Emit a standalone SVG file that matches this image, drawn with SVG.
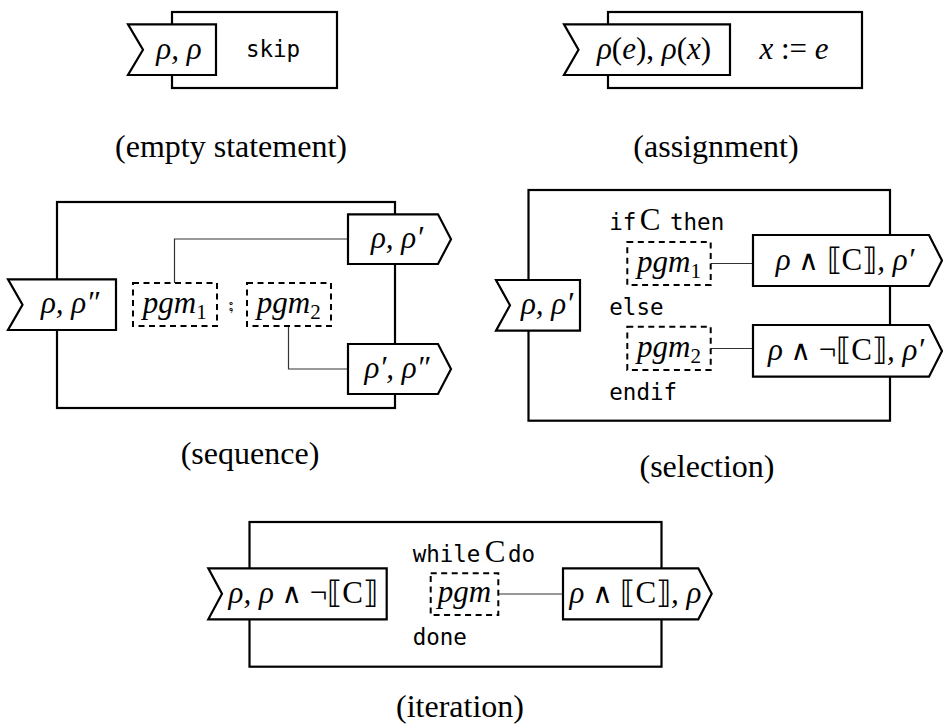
<svg xmlns="http://www.w3.org/2000/svg" width="943" height="724" viewBox="0 0 943 724">
<style>
.box{fill:#fff;stroke:#000;stroke-width:2.2}
.tag{fill:#fff;stroke:#000;stroke-width:2.2;stroke-linejoin:miter}
.dash{fill:none;stroke:#000;stroke-width:2;stroke-dasharray:6 4.5}
.conn{fill:none;stroke:#333;stroke-width:1.2}
.mi{font-family:"Liberation Serif","DejaVu Serif",serif;font-style:italic;font-size:31px;fill:#000}
.rm{font-style:normal}
.op{font-style:normal;font-family:"DejaVu Sans",sans-serif;font-size:28px}
.tt{font-family:"DejaVu Sans Mono","Liberation Mono",monospace;font-size:22.5px;fill:#000}
.cap{font-family:"Liberation Serif","DejaVu Serif",serif;font-size:32px;fill:#000}
.sub{font-style:normal;font-size:21px}
</style>
<rect width="943" height="724" fill="#fff"/>

<g id="skip">
<rect class="box" x="172" y="12" width="165" height="76"/>
<path class="tag" d="M128,24.3 L216,24.3 L216,75 L128,75 L143,49.7 Z"/>
<text class="mi" x="179" y="59" text-anchor="middle">ρ, ρ</text>
<text class="tt" x="273" y="57" text-anchor="middle">skip</text>
<text class="cap" x="231" y="157" text-anchor="middle">(empty statement)</text>
</g>

<g id="assign">
<rect class="box" x="608" y="12" width="254" height="76"/>
<path class="tag" d="M564,24.3 L730,24.3 L730,75 L564,75 L578.5,49.7 Z"/>
<text class="mi" x="654" y="59" text-anchor="middle">ρ<tspan class="rm">(</tspan>e<tspan class="rm">), </tspan>ρ<tspan class="rm">(</tspan>x<tspan class="rm">)</tspan></text>
<text class="mi" x="794" y="59" text-anchor="middle">x <tspan class="rm">:=</tspan> e</text>
<text class="cap" x="716" y="157" text-anchor="middle">(assignment)</text>
</g>

<g id="sequence">
<rect class="box" x="57" y="202" width="338" height="206"/>
<g id="seq-conn">
<path class="conn" d="M174.5,283 V239 H348"/>
<path class="conn" d="M288.5,326 V369 H348"/>
</g>
<path class="tag" d="M8,279.3 L116,279.3 L116,330 L8,330 L22.5,304.7 Z"/>
<text class="mi" x="70" y="313" text-anchor="middle">ρ, ρ″</text>
<rect class="dash" x="133" y="283" width="84" height="43"/>
<text class="mi" x="174.7" y="313" text-anchor="middle">pgm<tspan class="sub" dy="6">1</tspan></text>
<text x="231" y="311" text-anchor="middle" font-family="DejaVu Sans, sans-serif" font-size="20">⨟</text>
<rect class="dash" x="247" y="283" width="84" height="43"/>
<text class="mi" x="288.7" y="313" text-anchor="middle">pgm<tspan class="sub" dy="6">2</tspan></text>
<path class="tag" d="M348,214.3 L438,214.3 L451,239.2 L438,264 L348,264 Z"/>
<text class="mi" x="397" y="248" text-anchor="middle">ρ, ρ′</text>
<path class="tag" d="M348,344 L438,344 L451,369 L438,394 L348,394 Z"/>
<text class="mi" x="397" y="378" text-anchor="middle">ρ′, ρ″</text>
<text class="cap" x="250" y="464" text-anchor="middle">(sequence)</text>
</g>

<g id="selection">
<rect class="box" x="528.5" y="190" width="361.5" height="230.7"/>
<g id="sel-conn">
<path class="conn" d="M711,263.5 H753"/>
<path class="conn" d="M711,348.5 H753"/>
</g>
<path class="tag" d="M496,280 L580,280 L580,330.7 L496,330.7 L510,305.3 Z"/>
<text class="mi" x="547" y="314" text-anchor="middle">ρ, ρ′</text>
<text class="tt" x="609.3" y="230">if</text>
<text class="mi rm" x="650" y="230" text-anchor="middle">C</text>
<text class="tt" x="670" y="230">then</text>
<rect class="dash" x="627.3" y="242" width="83.4" height="43"/>
<text class="mi" x="669" y="272" text-anchor="middle">pgm<tspan class="sub" dy="6">1</tspan></text>
<text class="tt" x="609.3" y="315">else</text>
<rect class="dash" x="627.3" y="326.7" width="83.4" height="43.3"/>
<text class="mi" x="669" y="357" text-anchor="middle">pgm<tspan class="sub" dy="6">2</tspan></text>
<text class="tt" x="609.3" y="400">endif</text>
<path class="tag" d="M753,235 L929,235 L942,260.5 L929,286 L753,286 Z"/>
<text class="mi" x="845" y="270" text-anchor="middle">ρ <tspan class="op">∧</tspan> <tspan class="rm">⟦C⟧</tspan>, ρ′</text>
<path class="tag" d="M753,325 L929,325 L942,351 L929,376.7 L753,376.7 Z"/>
<text class="mi" x="846" y="360" text-anchor="middle">ρ <tspan class="op">∧</tspan> <tspan class="rm">¬⟦C⟧</tspan>, ρ′</text>
<text class="cap" x="707" y="477" text-anchor="middle">(selection)</text>
</g>

<g id="iteration">
<rect class="box" x="249.5" y="522" width="412" height="144.7"/>
<g id="iter-conn">
<path class="conn" d="M498.3,594 H563"/>
</g>
<path class="tag" d="M208.3,568.3 L386.7,568.3 L386.7,619.3 L208.3,619.3 L222,593.8 Z"/>
<text class="mi" x="303.3" y="603" text-anchor="middle">ρ, ρ <tspan class="op">∧</tspan> <tspan class="rm">¬⟦C⟧</tspan></text>
<text class="tt" x="412.7" y="561.7">while</text>
<text class="mi rm" x="495" y="561.7" text-anchor="middle">C</text>
<text class="tt" x="508" y="561.7">do</text>
<rect class="dash" x="430.7" y="573.3" width="67.6" height="41.7"/>
<text class="mi" x="464.5" y="602" text-anchor="middle">pgm</text>
<text class="tt" x="412.7" y="645">done</text>
<path class="tag" d="M563,568.3 L698.3,568.3 L711.7,593.8 L698.3,619.3 L563,619.3 Z"/>
<text class="mi" x="635.5" y="603" text-anchor="middle">ρ <tspan class="op">∧</tspan> <tspan class="rm">⟦C⟧</tspan>, ρ</text>
<text class="cap" x="460" y="717" text-anchor="middle">(iteration)</text>
</g>
</svg>
